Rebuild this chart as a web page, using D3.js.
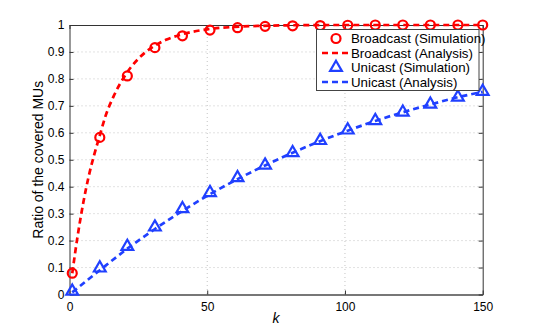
<!DOCTYPE html>
<html>
<head>
<meta charset="utf-8">
<script src="https://cdn.jsdelivr.net/npm/d3@7"></script>
<style>
  body { margin: 0; background: #fff; }
  svg { display: block; font-family: "Liberation Sans", Arial, sans-serif; }
</style>
</head>
<body>
<svg></svg>
<script>
// simulation points
const simK = [1, 11, 21, 31, 41, 51, 61, 71, 81, 91, 101, 111, 121, 131, 141, 150];
const broadcastSim = [0.079, 0.583, 0.811, 0.916, 0.960, 0.981, 0.990, 0.995, 0.997, 0.998, 0.999, 1, 1, 1, 1, 1];
const unicastSim = [0.012, 0.098, 0.178, 0.25, 0.318, 0.378, 0.433, 0.48, 0.526, 0.571, 0.61, 0.645, 0.676, 0.706, 0.732, 0.753];

// analysis curves
const broadcastAnaK = [1, 3, 5, 7, 9, 11, 13, 16, 20, 25, 30, 35, 40, 50, 60, 70, 80, 100, 120, 150];
const broadcastAna = [0.079, 0.22, 0.34, 0.44, 0.52, 0.59, 0.66, 0.735, 0.81, 0.875, 0.917, 0.945, 0.963, 0.984, 0.993, 0.997, 0.999, 1, 1, 1];
const unicastAnaK = [1, 11, 21, 31, 41, 51, 61, 71, 81, 91, 101, 111, 121, 131, 141, 150];
const unicastAna = [0.008, 0.09, 0.17, 0.243, 0.31, 0.372, 0.428, 0.479, 0.526, 0.569, 0.608, 0.644, 0.676, 0.705, 0.732, 0.752];

const xTicks = [0, 50, 100, 150];
const yTicks = [0, 0.1, 0.2, 0.3, 0.4, 0.5, 0.6, 0.7, 0.8, 0.9, 1];
const legendLabels = ['Broadcast (Simulation)', 'Broadcast (Analysis)', 'Unicast (Simulation)', 'Unicast (Analysis)'];

const width = 533;
const height = 332;
const pLeft = 69.5, pRight = 482.7, pTop = 25, pBottom = 294.5;
const red = '#ff0000';
const blue = '#2040ff';

const svg = d3.select('svg').attr('width', width).attr('height', height);

const x = d3.scaleLinear().domain([0, 150]).range([pLeft, pRight]);
const y = d3.scaleLinear().domain([0, 1]).range([pBottom, pTop]);

// grid
const grid = svg.append('g');
grid.selectAll('.gx').data(xTicks.slice(1, -1)).enter().append('line')
  .attr('x1', d => x(d)).attr('x2', d => x(d))
  .attr('y1', pTop).attr('y2', pBottom)
  .attr('stroke', '#c4c4c4').attr('stroke-width', 1).attr('stroke-dasharray', '1,3');
grid.selectAll('.gy').data(yTicks.slice(1, -1)).enter().append('line')
  .attr('x1', pLeft).attr('x2', pRight)
  .attr('y1', d => y(d)).attr('y2', d => y(d))
  .attr('stroke', '#c4c4c4').attr('stroke-width', 1).attr('stroke-dasharray', '1,3');

// axes
const xAxis = svg.append('g').attr('transform', `translate(0,${pBottom})`)
  .call(d3.axisBottom(x).tickValues(xTicks).tickSizeInner(-4).tickSizeOuter(0).tickPadding(8).tickFormat(d3.format('d')));
const yAxis = svg.append('g').attr('transform', `translate(${pLeft},0)`)
  .call(d3.axisLeft(y).tickValues(yTicks).tickSizeInner(-4).tickSizeOuter(0).tickPadding(5).tickFormat(d => d === 0 || d === 1 ? d : d3.format('.1f')(d)));
svg.append('g').attr('transform', `translate(0,${pTop})`)
  .call(d3.axisTop(x).tickValues(xTicks).tickSizeInner(-4).tickSizeOuter(0).tickFormat(''));
svg.append('g').attr('transform', `translate(${pRight},0)`)
  .call(d3.axisRight(y).tickValues(yTicks).tickSizeInner(-4).tickSizeOuter(0).tickFormat(''));

svg.selectAll('.domain').attr('stroke', '#333').attr('stroke-width', 1);
xAxis.select('.domain').attr('stroke', '#777').attr('stroke-width', 2);
svg.selectAll('.tick line').attr('stroke', '#333');
svg.selectAll('.tick text').attr('font-size', 12).attr('fill', '#000')
  .attr('font-family', '"Liberation Sans", Arial, sans-serif');

// axis titles
svg.append('text')
  .attr('transform', `translate(43,${(pTop + pBottom) / 2}) rotate(-90)`)
  .attr('text-anchor', 'middle')
  .attr('font-size', 14)
  .text('Ratio of the covered MUs');
svg.append('text')
  .attr('x', (pLeft + pRight) / 2).attr('y', 323)
  .attr('text-anchor', 'middle')
  .attr('font-size', 14)
  .attr('font-style', 'italic')
  .text('k');

// curves
const line = d3.line().x(d => x(d[0])).y(d => y(d[1])).curve(d3.curveMonotoneX);
svg.append('path')
  .datum(broadcastAnaK.map((k, i) => [k, broadcastAna[i]]))
  .attr('d', line).attr('fill', 'none').attr('stroke', red)
  .attr('stroke-width', 2.7).attr('stroke-dasharray', '6,4');
svg.append('path')
  .datum(unicastAnaK.map((k, i) => [k, unicastAna[i]]))
  .attr('d', line).attr('fill', 'none').attr('stroke', blue)
  .attr('stroke-width', 2.7).attr('stroke-dasharray', '6,4');

// markers
const tri = d3.symbol().type(d3.symbolTriangle).size(60);
svg.selectAll('.circ').data(simK).enter().append('circle')
  .attr('cx', d => x(d)).attr('cy', (d, i) => y(broadcastSim[i])).attr('r', 4.5)
  .attr('fill', 'none').attr('stroke', red).attr('stroke-width', 2.2);
svg.selectAll('.tri').data(simK).enter().append('path')
  .attr('d', tri)
  .attr('transform', (d, i) => `translate(${x(d)},${y(unicastSim[i])})`)
  .attr('fill', 'none').attr('stroke', blue).attr('stroke-width', 2.2);

// legend
const lg = svg.append('g');
lg.append('rect').attr('x', 316.5).attr('y', 29.5).attr('width', 162.5).attr('height', 61)
  .attr('fill', '#fff').attr('stroke', '#444').attr('stroke-width', 1);
const rowY = [38.5, 53, 67.5, 82];
legendLabels.forEach((label, i) => {
  const cy = rowY[i];
  const col = i < 2 ? red : blue;
  if (i % 2 === 1) {
    lg.append('line').attr('x1', 322).attr('x2', 350).attr('y1', cy).attr('y2', cy)
      .attr('stroke', col).attr('stroke-width', 2.7).attr('stroke-dasharray', '6,4');
  } else if (i === 0) {
    lg.append('circle').attr('cx', 336).attr('cy', cy).attr('r', 4.5)
      .attr('fill', 'none').attr('stroke', col).attr('stroke-width', 2.2);
  } else {
    lg.append('path').attr('d', tri).attr('transform', `translate(336,${cy})`)
      .attr('fill', 'none').attr('stroke', col).attr('stroke-width', 2.2);
  }
  lg.append('text').attr('x', 351).attr('y', cy).attr('dy', '0.35em')
    .attr('font-size', 13.3).text(label);
});
</script>
</body>
</html>
